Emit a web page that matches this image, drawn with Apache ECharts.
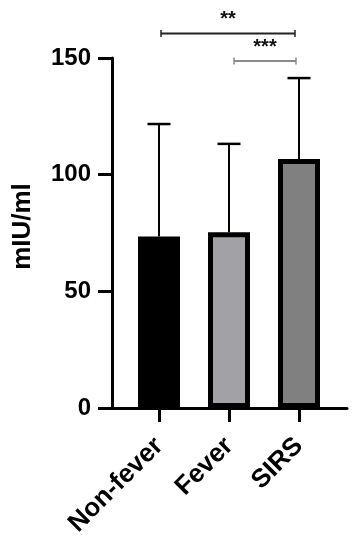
<!DOCTYPE html>
<html>
<head>
<meta charset="utf-8">
<script src="https://cdn.jsdelivr.net/npm/echarts@6/dist/echarts.min.js"></script>
<style>html,body{margin:0;padding:0;background:#fff;}#c{width:358px;height:550px;}</style>
</head>
<body>
<div id="c"></div>
<script>
const categories = ['Non-fever', 'Fever', 'SIRS'];
const means = [73.5, 75.3, 106.7];
const upperErr = [121.7, 113.2, 141.4];
const yTicks = [0, 50, 100, 150];
const bracketFrom = [0, 1];
const bracketTo = [2, 2];
const bracketY = [160.5, 148.7];
const bracketLabel = ['**', '***'];

const FONT = '"Liberation Sans", Arial, Helvetica, sans-serif';
const barFills = ['#000000', '#a2a2a6', '#808080'];
const bracketColors = ['#222222', '#8a8a8a'];
const bracketInset = [[2, -4], [5, -3]];

const chart = echarts.init(document.getElementById('c'), null, {renderer: 'canvas'});

const option = {
  backgroundColor: '#ffffff',
  animation: false,
  grid: [
    {left: 124, right: 24, top: 58, bottom: 142},
    {left: 112, right: 11, top: 58, bottom: 142}
  ],
  xAxis: [
    {
      type: 'category', gridIndex: 0, data: categories,
      axisLine: {show: false},
      axisTick: {show: true, alignWithLabel: true, length: 14, lineStyle: {color: '#000', width: 3}},
      axisLabel: {rotate: 45, margin: 34, fontFamily: FONT, fontWeight: 'bold', fontSize: 26, color: '#000', interval: 0}
    },
    {
      type: 'value', gridIndex: 1, min: 0, max: 1,
      axisLine: {show: true, lineStyle: {color: '#000', width: 3}},
      axisTick: {show: false}, axisLabel: {show: false}, splitLine: {show: false}
    }
  ],
  yAxis: [
    {type: 'value', gridIndex: 0, min: 0, max: 150, show: false, splitLine: {show: false}},
    {
      type: 'value', gridIndex: 1, min: 0, max: 150, interval: 50,
      name: 'mIU/ml', nameLocation: 'middle', nameGap: 76,
      nameTextStyle: {fontFamily: FONT, fontWeight: 'bold', fontSize: 26, color: '#000', padding: [0, 0, 0, 13]},
      axisLine: {show: true, lineStyle: {color: '#000', width: 3}},
      axisTick: {show: true, length: 14, lineStyle: {color: '#000', width: 3}},
      axisLabel: {margin: 21, fontFamily: FONT, fontWeight: 'bold', fontSize: 24, color: '#000',
        formatter: v => (yTicks.indexOf(v) >= 0 ? String(v) : '')},
      splitLine: {show: false}
    }
  ],
  series: [
    {
      type: 'custom', xAxisIndex: 0, yAxisIndex: 0, z: 1,
      data: categories.map((c, i) => [i, means[i], upperErr[i]]),
      renderItem: function (params, api) {
        const p1 = api.coord([api.value(0), api.value(1)]);
        const p2 = api.coord([api.value(0), api.value(2)]);
        return {
          type: 'group',
          children: [
            {type: 'line', shape: {x1: p1[0], y1: p1[1], x2: p2[0], y2: p2[1]}, style: {stroke: '#000', lineWidth: 2}},
            {type: 'line', shape: {x1: p2[0] - 11.5, y1: p2[1], x2: p2[0] + 11.5, y2: p2[1]}, style: {stroke: '#000', lineWidth: 2.5}}
          ]
        };
      }
    },
    {
      type: 'bar', xAxisIndex: 0, yAxisIndex: 0, z: 2, barWidth: 42,
      data: means.map((v, i) => ({value: v, itemStyle: {color: barFills[i], borderColor: '#000', borderWidth: 5}}))
    },
    {
      type: 'custom', xAxisIndex: 0, yAxisIndex: 0, z: 3,
      data: bracketY.map((y, i) => [bracketFrom[i], bracketTo[i], y, i]),
      renderItem: function (params, api) {
        const i = api.value(3);
        const a = api.coord([api.value(0), api.value(2)]);
        const b = api.coord([api.value(1), api.value(2)]);
        const x1 = a[0] + bracketInset[i][0];
        const x2 = b[0] + bracketInset[i][1];
        const y = a[1];
        const col = bracketColors[i];
        return {
          type: 'group',
          children: [
            {type: 'line', shape: {x1: x1, y1: y, x2: x2, y2: y}, style: {stroke: col, lineWidth: 2}},
            {type: 'line', shape: {x1: x1, y1: y - 3.5, x2: x1, y2: y + 3.5}, style: {stroke: col, lineWidth: 1.5}},
            {type: 'line', shape: {x1: x2, y1: y - 3.5, x2: x2, y2: y + 3.5}, style: {stroke: col, lineWidth: 1.5}},
            {type: 'text', x: (x1 + x2) / 2, y: y - 14,
              style: {text: bracketLabel[i], fill: '#111', font: 'bold 20px ' + FONT, align: 'center', verticalAlign: 'middle'}}
          ]
        };
      }
    }
  ]
};
chart.setOption(option);
</script>
</body>
</html>
